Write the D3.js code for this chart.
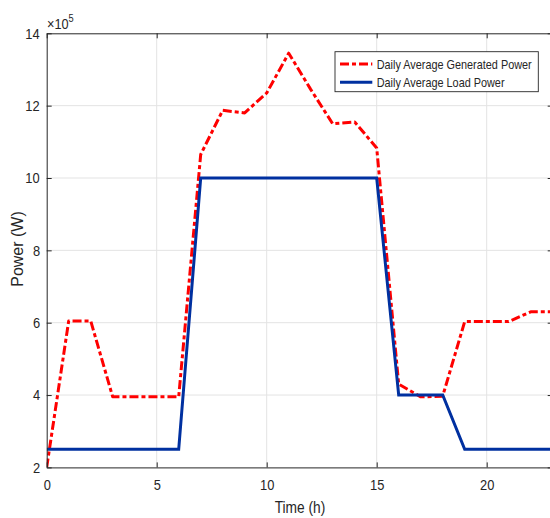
<!DOCTYPE html>
<html>
<head>
<meta charset="utf-8">
<script src="https://cdn.jsdelivr.net/npm/d3@7"></script>
<style>
  html, body { margin: 0; padding: 0; background: #fff; }
  svg text { font-family: "Liberation Sans", Arial, Helvetica, sans-serif; fill: #262626; }
  .sq { transform-box: fill-box; transform-origin: center; transform: scaleX(0.86); }
</style>
</head>
<body>
<svg id="chart" width="550" height="518"></svg>
<script>
// Hour of day
const hours = [0, 1, 2, 3, 4, 5, 6, 7, 8, 9, 10, 11, 12, 13, 14, 15, 16, 17, 18, 19, 20, 21, 22, 23];
// Daily average generated power (W)
const generatedPower = [200000, 605000, 605000, 395000, 395000, 395000, 395000, 1065000, 1187000, 1180000,
  1235000, 1345000, 1245000, 1150000, 1155000, 1083000, 430000, 395000, 397000, 603000,
  603000, 603000, 630000, 630000];
// Daily average load power (W)
const loadPower = [250000, 250000, 250000, 250000, 250000, 250000, 250000, 1000000, 1000000, 1000000,
  1000000, 1000000, 1000000, 1000000, 1000000, 1000000, 400000, 400000, 400000, 250000,
  250000, 250000, 250000, 250000];
const xTicks = [0, 5, 10, 15, 20];
const yTicks = [200000, 400000, 600000, 800000, 1000000, 1200000, 1400000];
const seriesNames = ["Daily Average Generated Power", "Daily Average Load Power"];
const seriesColors = ["#ff0000", "#0030a0"];

const svg = d3.select("#chart");
const plotLeft = 46.7, plotRight = 552.7, plotTop = 33.3, plotBottom = 467.4;
const x = d3.scaleLinear().domain([0, 23]).range([plotLeft, plotRight]);
const y = d3.scaleLinear().domain([200000, 1400000]).range([plotBottom, plotTop]);

// grid
const grid = svg.append("g").attr("stroke", "#e3e3e3").attr("stroke-width", 1);
grid.selectAll("line.v").data(xTicks.filter(d => d > 0)).join("line").attr("class", "v")
  .attr("x1", d => x(d)).attr("x2", d => x(d)).attr("y1", plotTop).attr("y2", plotBottom);
grid.selectAll("line.h").data(yTicks.filter(d => d > 200000 && d < 1400000)).join("line").attr("class", "h")
  .attr("x1", plotLeft).attr("x2", plotRight).attr("y1", d => y(d)).attr("y2", d => y(d));

// clip for the data lines
svg.append("clipPath").attr("id", "plot-clip").append("rect")
  .attr("x", plotLeft).attr("y", plotTop).attr("width", plotRight - plotLeft).attr("height", plotBottom - plotTop);

const line = d3.line().x((d, i) => x(hours[i])).y(d => y(d));
const plot = svg.append("g").attr("clip-path", "url(#plot-clip)");
plot.append("path").datum(generatedPower).attr("d", line)
  .attr("fill", "none").attr("stroke", seriesColors[0]).attr("stroke-width", 3)
  .attr("stroke-dasharray", "9,3,4,3").attr("stroke-linejoin", "round");
plot.append("path").datum(loadPower).attr("d", line)
  .attr("fill", "none").attr("stroke", seriesColors[1]).attr("stroke-width", 3)
  .attr("stroke-linejoin", "miter");

// axes (box with inward ticks)
function styleAxis(g) {
  g.select(".domain").attr("stroke", "#262626").attr("stroke-width", 1);
  g.selectAll(".tick line").attr("stroke", "#262626").attr("stroke-width", 1);
  g.selectAll(".tick text").attr("class", "sq").style("font-size", "15px").attr("fill", "#262626");
}
svg.append("g").attr("transform", `translate(0,${plotBottom})`)
  .call(d3.axisBottom(x).tickValues(xTicks).tickSizeInner(-5).tickSizeOuter(0).tickPadding(12.3))
  .call(styleAxis);
svg.append("g").attr("transform", `translate(${plotLeft},0)`)
  .call(d3.axisLeft(y).tickValues(yTicks).tickSizeInner(-5).tickSizeOuter(0).tickPadding(6)
    .tickFormat(d => d / 100000))
  .call(styleAxis);
svg.append("g").attr("transform", `translate(0,${plotTop})`)
  .call(d3.axisTop(x).tickValues(xTicks).tickSizeInner(-5).tickSizeOuter(0).tickFormat(""))
  .call(styleAxis);
svg.append("g").attr("transform", `translate(${plotRight},0)`)
  .call(d3.axisRight(y).tickValues(yTicks).tickSizeInner(-5).tickSizeOuter(0).tickFormat(""))
  .call(styleAxis);

// exponent
const ex = svg.append("text").attr("transform", "translate(47,29) scale(0.88,1)")
  .style("font-size", "14.5px").attr("fill", "#404040");
ex.append("tspan").text("×10");
ex.append("tspan").attr("dy", -7).style("font-size", "10.5px").text("5");

// axis titles
svg.append("text").attr("transform", "translate(17,249) rotate(-90)")
  .attr("text-anchor", "middle").attr("dominant-baseline", "central")
  .style("font-size", "16px").text("Power (W)");
svg.append("text").attr("class", "sq").attr("x", 300).attr("y", 507)
  .attr("text-anchor", "middle").attr("dominant-baseline", "central")
  .style("font-size", "16px").text("Time (h)");

// legend
const lg = svg.append("g");
lg.append("rect").attr("x", 335).attr("y", 51.7).attr("width", 203.3).attr("height", 40)
  .attr("fill", "#fff").attr("stroke", "#262626").attr("stroke-width", 0.9);
const rowsY = [64, 82.3];
seriesNames.forEach((name, i) => {
  const l = lg.append("line").attr("x1", 340).attr("x2", 372.3).attr("y1", rowsY[i]).attr("y2", rowsY[i])
    .attr("stroke", seriesColors[i]).attr("stroke-width", 3);
  if (i === 0) l.attr("stroke-dasharray", "9,3,4,3");
  lg.append("text").attr("transform", `translate(376.7,${rowsY[i]}) scale(0.87,1)`)
    .attr("dominant-baseline", "central")
    .style("font-size", "12.5px").text(name);
});
</script>
</body>
</html>
